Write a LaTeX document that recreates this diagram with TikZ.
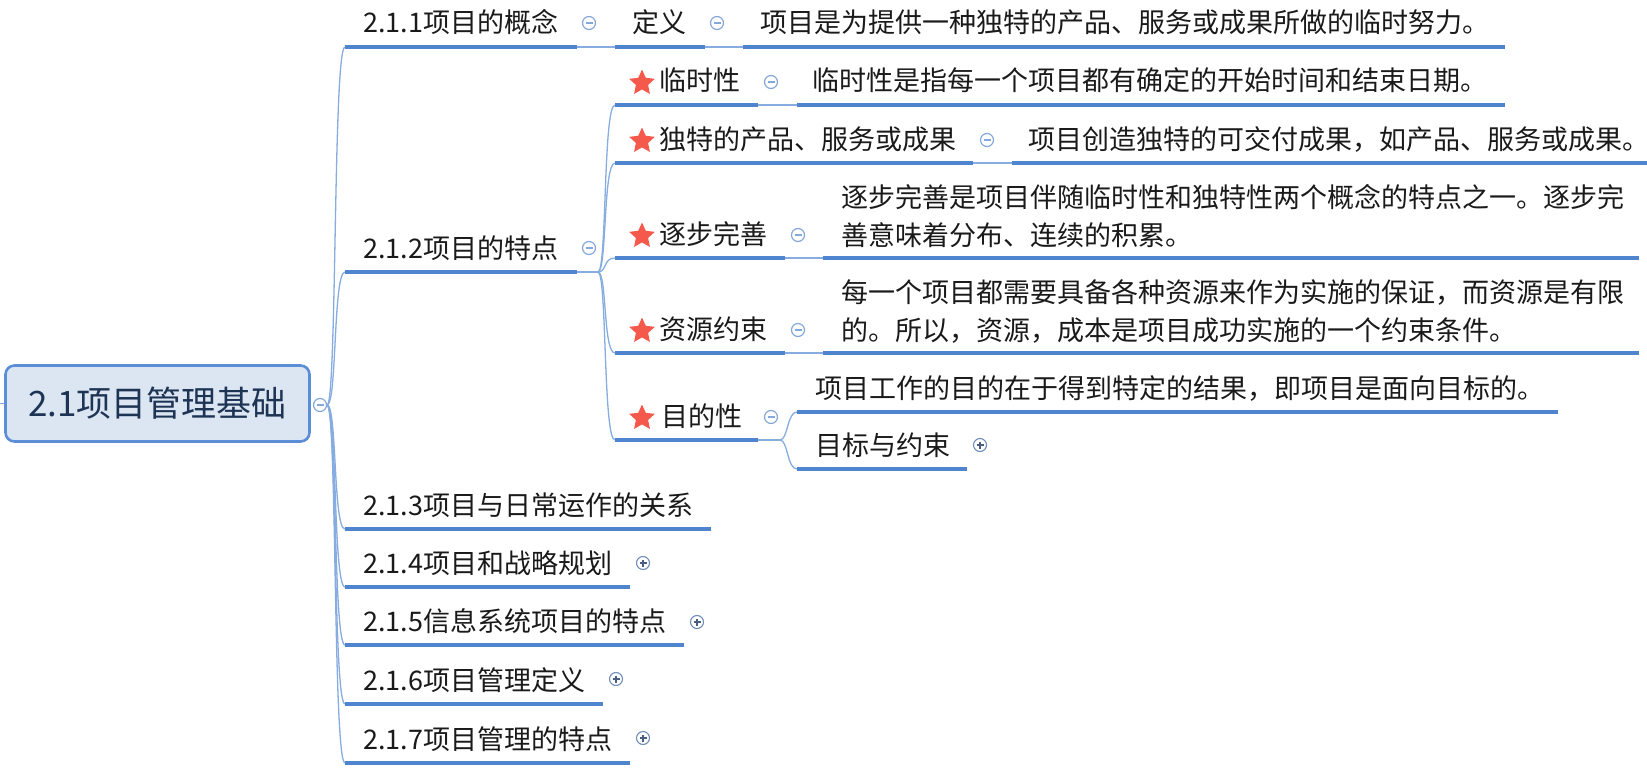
\documentclass[tikz,border=0pt]{standalone}
\usepackage{fontspec}
\setmainfont{Noto Sans CJK SC}
\usetikzlibrary{shapes.geometric}
\definecolor{ulblue}{HTML}{4F85CE}
\definecolor{thinblue}{HTML}{86ACE0}
\definecolor{rootfill}{HTML}{DCE6F3}
\definecolor{rootdraw}{HTML}{5B8ED6}
\definecolor{roottext}{HTML}{1E3454}
\definecolor{starred}{HTML}{F4594B}
\definecolor{txt}{HTML}{1A1A1A}
\definecolor{minusc}{HTML}{85A8DA}
\definecolor{plusc}{HTML}{6F8DBA}
\definecolor{plussign}{HTML}{4A5F80}
\begin{document}
\begin{tikzpicture}[x=1pt,y=-1pt,
  ul/.style={line width=3.6pt, color=ulblue},
  thin/.style={line width=1.4pt, color=thinblue},
  lbl/.style={anchor=base west, inner sep=0pt, font=\fontsize{27}{38}\selectfont, text=txt},
  mlbl/.style={anchor=west, inner sep=0pt, font=\fontsize{27}{38}\selectfont, text=txt, align=left},
  stardot/.style={star, star points=5, star point ratio=2.1, fill=starred, inner sep=0pt, minimum size=27pt},
  collapse/.style={circle, draw=minusc, line width=1.2pt, fill=white, minimum size=13pt, inner sep=0pt,
    path picture={\draw[minusc, line width=1.2pt] ([xshift=-3.5pt]path picture bounding box.center) -- ([xshift=3.5pt]path picture bounding box.center);}},
  expand/.style={circle, draw=plusc, line width=1.1pt, fill=white, minimum size=13pt, inner sep=0pt,
    path picture={\draw[plussign, line width=1.2pt] ([xshift=-3.5pt]path picture bounding box.center) -- ([xshift=3.5pt]path picture bounding box.center)
      ([yshift=-3.5pt]path picture bounding box.center) -- ([yshift=3.5pt]path picture bounding box.center);}},
  rootbox/.style={draw=rootdraw, line width=2.6pt, fill=rootfill, rounded corners=9pt, minimum width=304pt, minimum height=76pt, inner sep=0pt, font=\fontsize{35}{40}\selectfont, text=roottext},
  curvy/.style={thin, line width=1.3pt}
]
\useasboundingbox (0,0) rectangle (1647,776);

% ---------- root ----------
\node[rootbox] (root) at (157.5,403.5) {2.1项目管理基础};
\coordinate (stub) at (0,403.5);
\draw[thin] (stub) -- (root.west);
\node[collapse] (rc) at (320,405) {};

% ---------- level-1 underline coordinates ----------
\coordinate (l1L) at (345,47);  \coordinate (l1R) at (577,47);
\coordinate (l2L) at (345,272); \coordinate (l2R) at (577,272);
\coordinate (l3L) at (345,529); \coordinate (l3R) at (711,529);
\coordinate (l4L) at (345,587); \coordinate (l4R) at (630,587);
\coordinate (l5L) at (345,645); \coordinate (l5R) at (684,645);
\coordinate (l6L) at (345,704); \coordinate (l6R) at (603,704);
\coordinate (l7L) at (345,763); \coordinate (l7R) at (630,763);

% trunk curves
\foreach \t in {l1L,l2L,l3L,l4L,l5L,l6L,l7L}{
  \draw[curvy] (rc.east) .. controls +(10,0) and +(-12,0) .. (\t);
}
\foreach \a/\b in {l1L/l1R,l2L/l2R,l3L/l3R,l4L/l4R,l5L/l5R,l6L/l6R,l7L/l7R}{
  \draw[ul] (\a) -- (\b);
}

% ---------- 2.1.1 ----------
\node[lbl] (t1) at (363,33) {2.1.1项目的概念};
\coordinate (d1L) at (615,47); \coordinate (d1R) at (705,47);
\coordinate (e1L) at (743,47); \coordinate (e1R) at (1505,47);
\draw[thin] (l1R) -- (d1L);
\draw[thin] (d1R) -- (e1L);
\draw[ul] (d1L) -- (d1R);
\draw[ul] (e1L) -- (e1R);
\node[collapse] (c1) at (589,23) {};
\node[lbl] (td1) at (632,33) {定义};
\node[collapse] (cd1) at (717,23) {};
\node[lbl] (te1) at (760,33) {项目是为提供一种独特的产品、服务或成果所做的临时努力。};

% ---------- 2.1.2 ----------
\node[lbl] (t2) at (363,258) {2.1.2项目的特点};
\node[collapse] (c2) at (589,248) {};
\coordinate (f2) at (598,272);
\draw[thin] (l2R) -- (f2);

\coordinate (k1L) at (615,105); \coordinate (k1R) at (758,105);
\coordinate (m1L) at (797,105); \coordinate (m1R) at (1505,105);
\coordinate (k2L) at (615,163); \coordinate (k2R) at (973,163);
\coordinate (m2L) at (1012,163); \coordinate (m2R) at (1647,163);
\coordinate (k3L) at (615,258); \coordinate (k3R) at (785,258);
\coordinate (m3L) at (823,258); \coordinate (m3R) at (1639,258);
\coordinate (k4L) at (615,353); \coordinate (k4R) at (785,353);
\coordinate (m4L) at (823,353); \coordinate (m4R) at (1639,353);
\coordinate (k5L) at (615,440); \coordinate (k5R) at (758,440);

\foreach \t in {k1L,k2L,k3L,k4L,k5L}{
  \draw[curvy] (f2) .. controls +(9,0) and +(-12,0) .. (\t);
}
\draw[thin] (k1R) -- (m1L);
\draw[thin] (k2R) -- (m2L);
\draw[thin] (k3R) -- (m3L);
\draw[thin] (k4R) -- (m4L);
\foreach \a/\b in {k1L/k1R,m1L/m1R,k2L/k2R,m2L/m2R,k3L/k3R,m3L/m3R,k4L/k4R,m4L/m4R,k5L/k5R}{
  \draw[ul] (\a) -- (\b);
}

% 临时性
\node[stardot] (s1) at (642,83) {};
\node[lbl] (tk1) at (659,91) {临时性};
\node[collapse] (ck1) at (771,82) {};
\node[lbl] (tm1) at (812,91) {临时性是指每一个项目都有确定的开始时间和结束日期。};

% 独特的产品
\node[stardot] (s2) at (642,141) {};
\node[lbl] (tk2) at (659,149) {独特的产品、服务或成果};
\node[collapse] (ck2) at (987,140) {};
\node[lbl] (tm2) at (1028,149) {项目创造独特的可交付成果，如产品、服务或成果。};

% 逐步完善
\node[stardot] (s3) at (642,236) {};
\node[lbl] (tk3) at (659,244) {逐步完善};
\node[collapse] (ck3) at (798,235) {};
\node[mlbl] (tm3) at (841,216) {逐步完善是项目伴随临时性和独特性两个概念的特点之一。逐步完\\善意味着分布、连续的积累。};

% 资源约束
\node[stardot] (s4) at (642,331) {};
\node[lbl] (tk4) at (659,339) {资源约束};
\node[collapse] (ck4) at (798,330) {};
\node[mlbl] (tm4) at (841,311) {每一个项目都需要具备各种资源来作为实施的保证，而资源是有限\\的。所以，资源，成本是项目成功实施的一个约束条件。};

% 目的性
\node[stardot] (s5) at (642,418) {};
\node[lbl] (tk5) at (661,426) {目的性};
\node[collapse] (ck5) at (771,417) {};
\coordinate (f5) at (780,440);
\draw[thin] (k5R) -- (f5);
\coordinate (n1L) at (797,412); \coordinate (n1R) at (1558,412);
\coordinate (n2L) at (797,469); \coordinate (n2R) at (967,469);
\draw[curvy] (f5) .. controls +(8,0) and +(-10,0) .. (n1L);
\draw[curvy] (f5) .. controls +(8,0) and +(-10,0) .. (n2L);
\draw[ul] (n1L) -- (n1R);
\draw[ul] (n2L) -- (n2R);
\node[lbl] (tn1) at (815,398) {项目工作的目的在于得到特定的结果，即项目是面向目标的。};
\node[lbl] (tn2) at (815,455) {目标与约束};
\node[expand] (cn2) at (980,445) {};

% ---------- 2.1.3 - 2.1.7 ----------
\node[lbl] (t3) at (363,515) {2.1.3项目与日常运作的关系};
\node[lbl] (t4) at (363,573) {2.1.4项目和战略规划};
\node[expand] (c4) at (643,563) {};
\node[lbl] (t5) at (363,631) {2.1.5信息系统项目的特点};
\node[expand] (c5) at (697,622) {};
\node[lbl] (t6) at (363,690) {2.1.6项目管理定义};
\node[expand] (c6) at (616,679) {};
\node[lbl] (t7) at (363,749) {2.1.7项目管理的特点};
\node[expand] (c7) at (643,738) {};
\end{tikzpicture}
\end{document}
